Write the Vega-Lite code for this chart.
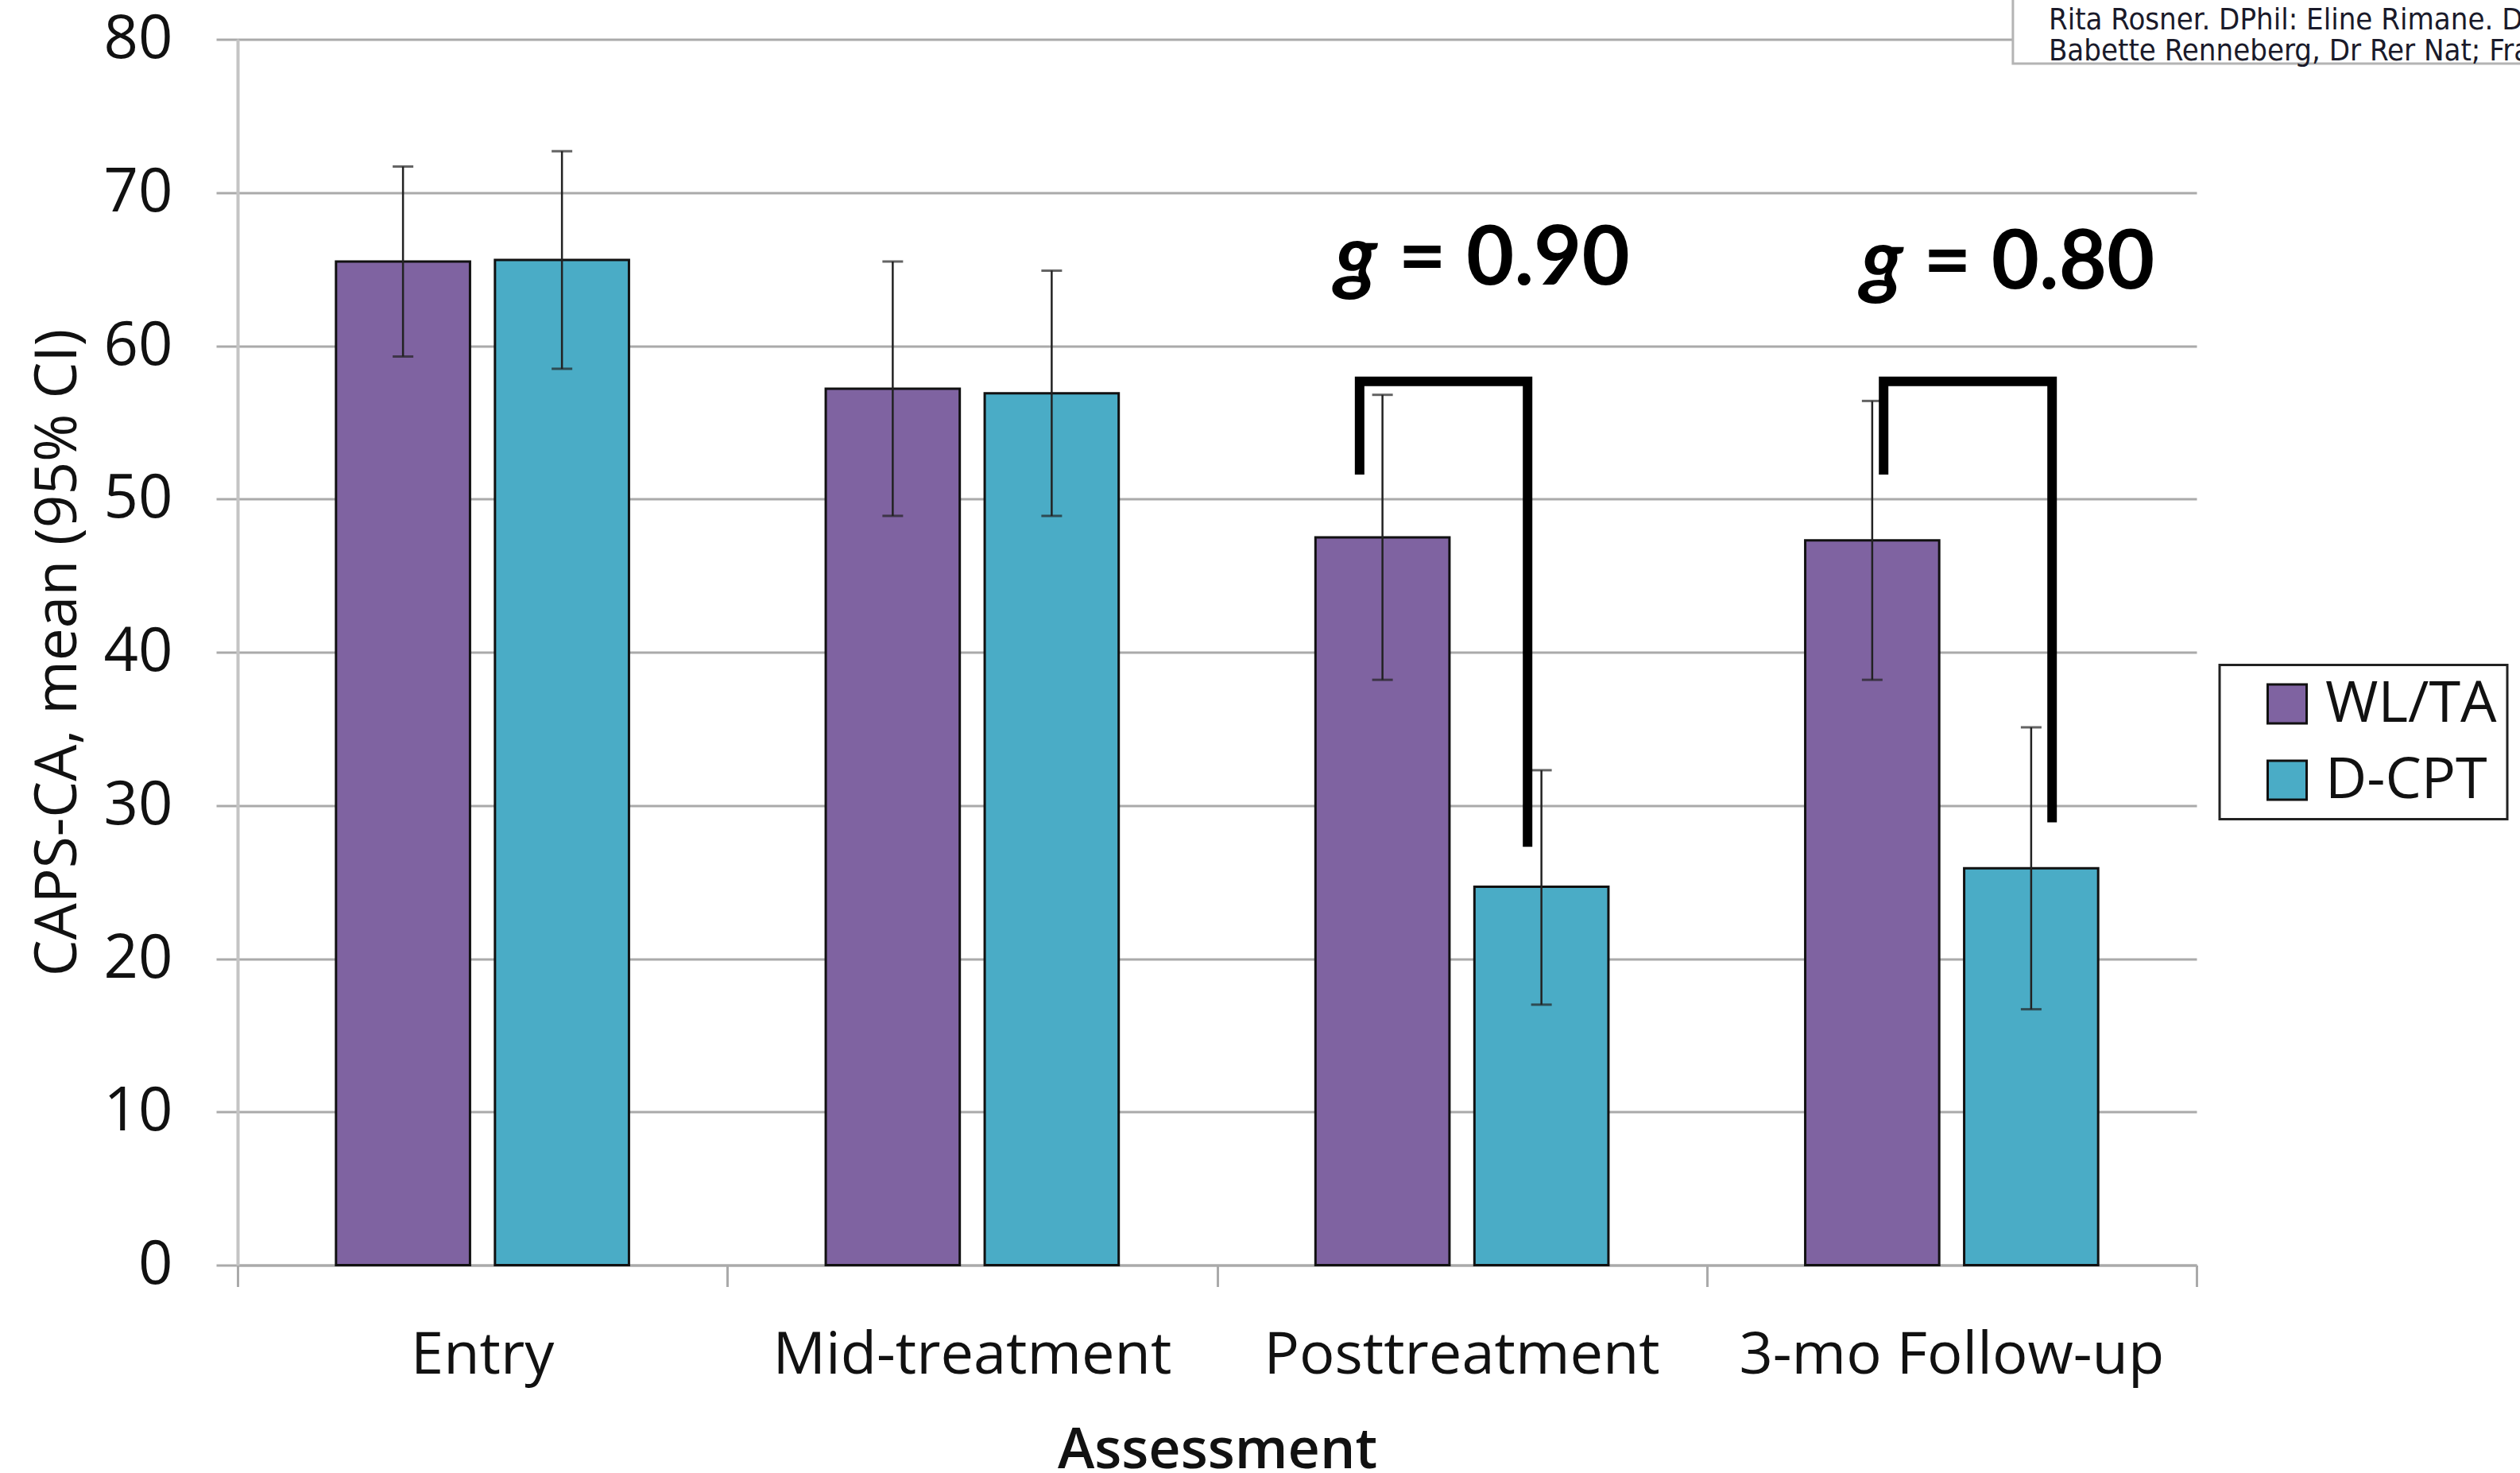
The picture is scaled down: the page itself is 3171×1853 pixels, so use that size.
{
  "$schema": "https://vega.github.io/schema/vega-lite/v6.json",
  "autosize": {"type": "none"},
  "width": 2465,
  "height": 1542,
  "padding": {"left": 299, "top": 49.5, "right": 407, "bottom": 261.5},
  "background": "white",
  "config": {"view": {"stroke": null}, "font": "Open Sans"},
  "datasets": {
    "bars": [
      {"assessment": "Entry", "group": "WL/TA", "mean": 65.5, "lo": 59.3, "hi": 71.7},
      {"assessment": "Entry", "group": "D-CPT", "mean": 65.6, "lo": 58.5, "hi": 72.7},
      {"assessment": "Mid-treatment", "group": "WL/TA", "mean": 57.2, "lo": 48.9, "hi": 65.5},
      {"assessment": "Mid-treatment", "group": "D-CPT", "mean": 56.9, "lo": 48.9, "hi": 64.9},
      {"assessment": "Posttreatment", "group": "WL/TA", "mean": 47.5, "lo": 38.2, "hi": 56.8},
      {"assessment": "Posttreatment", "group": "D-CPT", "mean": 24.7, "lo": 17.0, "hi": 32.3},
      {"assessment": "3-mo Follow-up", "group": "WL/TA", "mean": 47.3, "lo": 38.2, "hi": 56.4},
      {"assessment": "3-mo Follow-up", "group": "D-CPT", "mean": 25.9, "lo": 16.7, "hi": 35.1}
    ],
    "brackets": [
      {"pair": "post", "ord": 1, "px": 2.291, "py": 51.6},
      {"pair": "post", "ord": 2, "px": 2.291, "py": 57.68},
      {"pair": "post", "ord": 3, "px": 2.634, "py": 57.68},
      {"pair": "post", "ord": 4, "px": 2.634, "py": 27.3},
      {"pair": "fu", "ord": 1, "px": 3.361, "py": 51.6},
      {"pair": "fu", "ord": 2, "px": 3.361, "py": 57.68},
      {"pair": "fu", "ord": 3, "px": 3.705, "py": 57.68},
      {"pair": "fu", "ord": 4, "px": 3.705, "py": 28.9}
    ],
    "effects": [
      {"part": "g", "text": "g", "px": 2.327, "py": 63.97},
      {"part": "v", "text": "= 0.90", "px": 2.370, "py": 63.97},
      {"part": "g", "text": "g", "px": 3.401, "py": 63.71},
      {"part": "v", "text": "= 0.80", "px": 3.442, "py": 63.71}
    ],
    "cite": [
      {"text": "Rita Rosner. DPhil: Eline Rimane. Dipl-Ps", "px": 3.698, "py": 80.66},
      {"text": "Babette Renneberg, Dr Rer Nat; Franzisk", "px": 3.698, "py": 78.62}
    ]
  },
  "layer": [
    {
      "data": {"name": "bars"},
      "mark": {"type": "bar", "stroke": "#111111", "strokeWidth": 3},
      "encoding": {
        "x": {
          "field": "assessment", "type": "nominal",
          "sort": ["Entry", "Mid-treatment", "Posttreatment", "3-mo Follow-up"],
          "scale": {"paddingInner": 0, "paddingOuter": 0},
          "title": "Assessment",
          "axis": {
            "orient": "bottom", "labelAngle": 0, "ticks": false, "domain": true,
            "domainColor": "#aaaaaa", "domainWidth": 3, "grid": false,
            "labelFont": "Open Sans", "labelFontSize": 74, "labelColor": "#111111",
            "labelBaseline": "alphabetic", "labelPadding": 136, "labelLimit": 1000,
            "titleFont": "Open Sans", "titleFontSize": 70, "titleFontWeight": 600,
            "titleColor": "#111111", "titleBaseline": "alphabetic", "titleY": 255
          }
        },
        "xOffset": {
          "field": "group", "type": "nominal", "sort": ["WL/TA", "D-CPT"],
          "scale": {"paddingInner": 0.157, "paddingOuter": 0.619}
        },
        "y": {
          "field": "mean", "type": "quantitative",
          "scale": {"domain": [0, 80], "nice": false},
          "title": "CAPS-CA, mean (95% CI)",
          "axis": {
            "tickCount": 8,
            "domain": true, "domainColor": "#c4c4c4", "domainWidth": 4,
            "ticks": true, "tickColor": "#aaaaaa", "tickWidth": 3, "tickSize": 27,
            "grid": true, "gridColor": "#aaaaaa", "gridWidth": 3,
            "labelFont": "Open Sans", "labelFontSize": 76, "labelColor": "#111111",
            "labelPadding": 55,
            "titleFont": "Open Sans", "titleFontSize": 73, "titleFontWeight": "normal",
            "titleColor": "#111111", "titlePadding": 20
          }
        },
        "color": {
          "field": "group", "type": "nominal",
          "scale": {"domain": ["WL/TA", "D-CPT"], "range": ["#7f63a1", "#4aacc6"]},
          "legend": {
            "orient": "none", "legendX": 2494, "legendY": 787, "title": null,
            "labelFont": "Open Sans", "labelFontSize": 72, "labelColor": "#111111",
            "labelLimit": 600, "labelOffset": 12,
            "symbolType": "square", "symbolSize": 2401,
            "symbolStrokeColor": "#111111", "symbolStrokeWidth": 3,
            "symbolOffset": 36, "rowPadding": 24, "padding": 13,
            "strokeColor": "#222222",
            "encode": {"legend": {"update": {"strokeWidth": {"value": 3}}}}
          }
        }
      }
    },
    {
      "data": {"name": "bars"},
      "mark": {"type": "rule", "color": "#222222", "strokeWidth": 2.5},
      "encoding": {
        "x": {"field": "assessment", "type": "nominal", "sort": ["Entry", "Mid-treatment", "Posttreatment", "3-mo Follow-up"], "scale": {"paddingInner": 0, "paddingOuter": 0}, "axis": null},
        "xOffset": {"field": "group", "type": "nominal", "sort": ["WL/TA", "D-CPT"]},
        "y": {"field": "lo", "type": "quantitative", "title": "CAPS-CA, mean (95% CI)"},
        "y2": {"field": "hi"}
      }
    },
    {
      "data": {"name": "bars"},
      "mark": {"type": "tick", "color": "#222222", "thickness": 3, "size": 26},
      "encoding": {
        "x": {"field": "assessment", "type": "nominal", "sort": ["Entry", "Mid-treatment", "Posttreatment", "3-mo Follow-up"], "scale": {"paddingInner": 0, "paddingOuter": 0}, "axis": null},
        "xOffset": {"field": "group", "type": "nominal", "sort": ["WL/TA", "D-CPT"]},
        "y": {"field": "lo", "type": "quantitative", "title": "CAPS-CA, mean (95% CI)"}
      }
    },
    {
      "data": {"name": "bars"},
      "mark": {"type": "tick", "color": "#222222", "thickness": 3, "size": 26},
      "encoding": {
        "x": {"field": "assessment", "type": "nominal", "sort": ["Entry", "Mid-treatment", "Posttreatment", "3-mo Follow-up"], "scale": {"paddingInner": 0, "paddingOuter": 0}, "axis": null},
        "xOffset": {"field": "group", "type": "nominal", "sort": ["WL/TA", "D-CPT"]},
        "y": {"field": "hi", "type": "quantitative", "title": "CAPS-CA, mean (95% CI)"}
      }
    },
    {
      "layer": [
        {
          "data": {"name": "brackets"},
          "mark": {"type": "line", "color": "#000000", "strokeWidth": 12, "strokeJoin": "miter", "strokeCap": "butt"},
          "encoding": {
            "x": {
              "field": "px", "type": "quantitative",
              "scale": {"domain": [0, 4], "nice": false, "zero": false},
              "title": null,
              "axis": {
                "orient": "bottom", "values": [0, 1, 2, 3, 4], "labels": false,
                "domain": false, "grid": false, "ticks": true, "tickSize": 27,
                "tickColor": "#aaaaaa", "tickWidth": 3
              }
            },
            "y": {"field": "py", "type": "quantitative", "title": "CAPS-CA, mean (95% CI)"},
            "detail": {"field": "pair"},
            "order": {"field": "ord"}
          }
        },
        {
          "data": {"name": "effects"},
          "transform": [{"filter": "datum.part === 'g'"}],
          "mark": {"type": "text", "font": "Lato", "fontSize": 106, "fontWeight": "bold", "fontStyle": "italic", "align": "right", "baseline": "alphabetic", "color": "#000000"},
          "encoding": {
            "x": {"field": "px", "type": "quantitative", "title": null},
            "y": {"field": "py", "type": "quantitative", "title": "CAPS-CA, mean (95% CI)"},
            "text": {"field": "text"}
          }
        },
        {
          "data": {"name": "effects"},
          "transform": [{"filter": "datum.part === 'v'"}],
          "mark": {"type": "text", "font": "Lato", "fontSize": 104, "fontWeight": "bold", "align": "left", "baseline": "alphabetic", "color": "#000000"},
          "encoding": {
            "x": {"field": "px", "type": "quantitative", "title": null},
            "y": {"field": "py", "type": "quantitative", "title": "CAPS-CA, mean (95% CI)"},
            "text": {"field": "text"}
          }
        },
        {
          "data": {"values": [{"box": "citation"}]},
          "mark": {"type": "rect", "fill": "#ffffff", "stroke": "#b4b4b4", "strokeWidth": 3, "clip": false},
          "encoding": {
            "x": {"datum": 3.625, "type": "quantitative", "title": null},
            "x2": {"datum": 5},
            "y": {"datum": 78.42, "type": "quantitative", "title": "CAPS-CA, mean (95% CI)"},
            "y2": {"datum": 86}
          }
        },
        {
          "data": {"name": "cite"},
          "mark": {"type": "text", "font": "'Liberation Sans Narrow', 'DejaVu Sans Condensed', 'Roboto Condensed', Roboto, sans-serif", "fontSize": 38, "align": "left", "baseline": "alphabetic", "color": "#1a1a2a"},
          "encoding": {
            "x": {"field": "px", "type": "quantitative", "title": null},
            "y": {"field": "py", "type": "quantitative", "title": "CAPS-CA, mean (95% CI)"},
            "text": {"field": "text"}
          }
        }
      ]
    }
  ],
  "resolve": {"scale": {"x": "independent"}, "axis": {"x": "independent"}}
}
